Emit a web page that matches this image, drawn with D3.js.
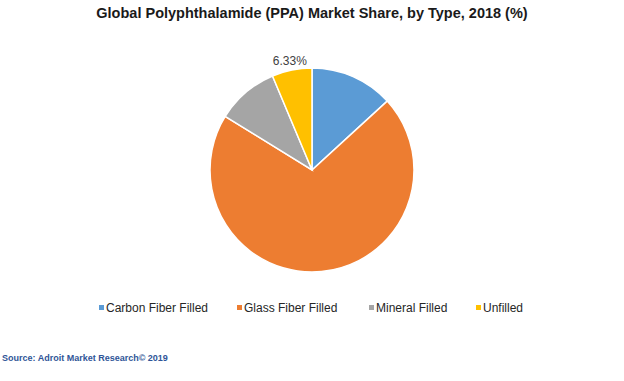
<!DOCTYPE html>
<html>
<head>
<meta charset="utf-8">
<script src="https://cdn.jsdelivr.net/npm/d3@7"></script>
<style>
  body { margin: 0; background: #fff; }
  text { font-family: "Liberation Sans", Arial, sans-serif; }
</style>
</head>
<body>
<script>
var categories = ["Carbon Fiber Filled", "Glass Fiber Filled", "Mineral Filled", "Unfilled"];
var shares = [13.2, 70.6, 9.87, 6.33];
var colors = ["#5B9BD5", "#ED7D31", "#A5A5A5", "#FFC000"];
var labelled = ["", "", "", "6.33%"];
var legendX = [99, 237, 369, 476];

var width = 624, height = 381,
    cx = 312, cy = 170, radius = 102;

var svg = d3.select("body").append("svg")
    .attr("width", width)
    .attr("height", height);

svg.append("text")
    .attr("x", 312)
    .attr("y", 18)
    .attr("text-anchor", "middle")
    .style("font-size", "14.5px")
    .style("font-weight", "bold")
    .attr("fill", "#1a1a1a")
    .text("Global Polyphthalamide (PPA) Market Share, by Type, 2018 (%)");

var pie = d3.pie().sort(null).value(function(d) { return d; });
var arc = d3.arc().innerRadius(0).outerRadius(radius);
var labelArc = d3.arc().innerRadius(radius + 10).outerRadius(radius + 10);

var g = svg.append("g")
    .attr("transform", "translate(" + cx + "," + cy + ")");

var arcs = pie(shares);

g.selectAll("path")
    .data(arcs)
  .enter().append("path")
    .attr("d", arc)
    .attr("fill", function(d, i) { return colors[i]; })
    .attr("stroke", "#fff")
    .attr("stroke-width", 1.5);

g.selectAll("text.lbl")
    .data(arcs)
  .enter().append("text")
    .attr("class", "lbl")
    .attr("transform", function(d) {
      var c = labelArc.centroid(d);
      return "translate(" + c[0] + "," + (c[1] + 5) + ")";
    })
    .attr("text-anchor", "middle")
    .style("font-size", "12px")
    .attr("fill", "#404040")
    .text(function(d, i) { return labelled[i]; });

var legend = svg.append("g").selectAll("g")
    .data(categories)
  .enter().append("g")
    .attr("transform", function(d, i) { return "translate(" + legendX[i] + ",310)"; });

legend.append("rect")
    .attr("x", 0).attr("y", -5)
    .attr("width", 5).attr("height", 5)
    .attr("fill", function(d, i) { return colors[i]; });

legend.append("text")
    .attr("x", 7)
    .attr("y", 2)
    .style("font-size", "12px")
    .attr("fill", "#262626")
    .text(function(d) { return d; });

svg.append("text")
    .attr("x", 2)
    .attr("y", 361)
    .style("font-size", "9px")
    .style("font-weight", "bold")
    .attr("fill", "#2F5597")
    .text("Source: Adroit Market Research\u00a9 2019");
</script>
</body>
</html>
